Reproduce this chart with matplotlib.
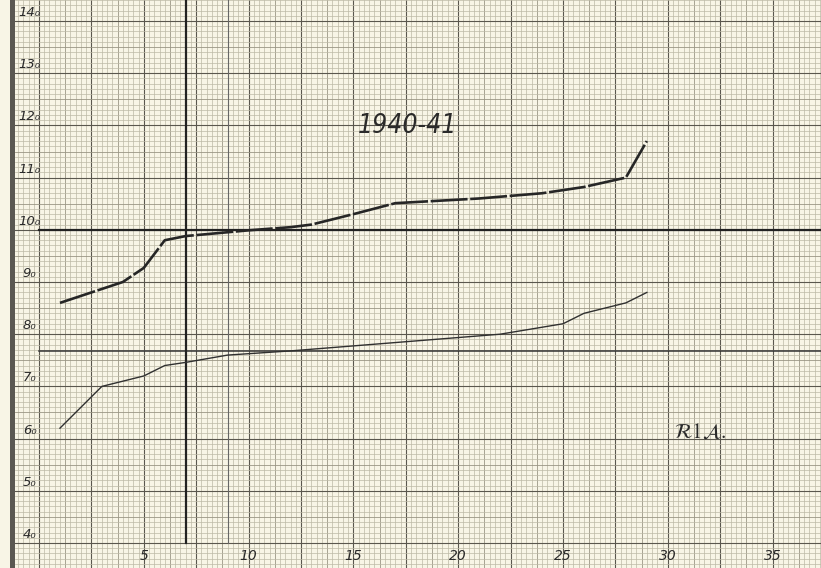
import numpy as np
import matplotlib
matplotlib.use("Agg")
import matplotlib.pyplot as plt

plt.rcParams['mathtext.fontset'] = 'stix'

# ---- data ----
days_upper = [1, 4, 5, 6, 7, 10, 12, 13, 15, 17, 21, 24, 26, 28, 29]
vals_upper = [86, 90, 92.7, 98, 98.8, 99.9, 100.5, 101, 103, 105.1, 106, 107, 108.2, 110, 117]
days_lower = [1, 3, 5, 6, 7, 9, 12, 17, 22, 25, 26, 28, 29]
vals_lower = [62, 70, 72, 74, 74.6, 76, 76.8, 78.4, 80, 82, 84, 86, 88]
y_ticks = [140, 130, 120, 110, 100, 90, 80, 70, 60, 50, 40]
y_ticklabels = ['14₀', '13₀', '12₀', '11₀', '10₀', '9₀', '8₀', '7₀', '6₀', '5₀', '4₀']
x_ticks = [5, 10, 15, 20, 25, 30, 35]
x_ticklabels = ['5', '10', '15', '20', '25', '30', '35']
title = '1940-41'
tag = r'$\mathcal{R}1\mathcal{A}.$'

W, H = 821, 568
fig = plt.figure(figsize=(W / 100, H / 100), dpi=100)
paper = '#f8f5e6'
fig.patch.set_facecolor(paper)

# pixel mapping
x0px, pxu = 39.0, 20.96
y140px, pyu = 21.0, 5.22
left_px = 15
ax = fig.add_axes([left_px / W, 0, (W - left_px) / W, 1])
xmin = (left_px - x0px) / pxu
xmax = (W - x0px) / pxu
ymax = 140 + y140px / pyu
ymin = 140 - (H - y140px) / pyu
ax.set_xlim(xmin, xmax)
ax.set_ylim(ymin, ymax)
ax.set_facecolor(paper)
ax.axis('off')

# binding shadow strip
fig.patches.append(plt.Rectangle((10 / W, 0), 5 / W, 1, transform=fig.transFigure,
                                 facecolor='#5a5852', edgecolor='none', zorder=0))

# graph paper grid
minor_c, mid_c, major_c = '#bdb9a6', '#9a9684', '#5a574e'
for xv in np.arange(np.floor(xmin / 0.25) * 0.25, xmax + 0.01, 0.25):
    k = round(xv / 0.25)
    if k % 10 == 0:
        ax.axvline(xv, color=major_c, lw=0.8, zorder=1)
    elif k % 5 == 0:
        ax.axvline(xv, color=mid_c, lw=0.6, zorder=1)
    else:
        ax.axvline(xv, color=minor_c, lw=0.5, zorder=1)
for yv in np.arange(np.floor(ymin), ymax + 0.01, 1.0):
    k = int(round(yv))
    if k % 10 == 0:
        ax.axhline(yv, color=major_c, lw=0.8, zorder=1)
    elif k % 5 == 0:
        ax.axhline(yv, color=mid_c, lw=0.6, zorder=1)
    else:
        ax.axhline(yv, color=minor_c, lw=0.5, zorder=1)

# heavy reference lines
ax.plot([0, xmax], [100, 100], color='#222222', lw=1.6, zorder=3)
ax.plot([0, xmax], [76.8, 76.8], color='#333333', lw=1.1, zorder=3)
ax.plot([7, 7], [40, ymax], color='#222222', lw=1.6, zorder=3)
ax.plot([9, 9], [40, ymax], color='#666666', lw=0.8, zorder=2)

# data lines
ax.plot(days_upper, vals_upper, color='#262626', lw=1.9, zorder=4,
        solid_capstyle='round', dashes=(14, 1.0))
ax.plot(days_lower, vals_lower, color='#303030', lw=1.0, zorder=4)

# tick labels
for v, lab in zip(y_ticks, y_ticklabels):
    ax.text(-0.45, v + 0.4, lab, ha='center', va='bottom', fontsize=9.5,
            style='italic', color='#2a2a2a', zorder=5)
for v, lab in zip(x_ticks, x_ticklabels):
    ax.text(v, 37.6, lab, ha='center', va='center', fontsize=10,
            style='italic', color='#2a2a2a', zorder=5)

ax.text(17.6, 119.9, title, ha='center', va='center', fontsize=19,
        style='italic', fontstretch='condensed',
        family=['DejaVu Sans'], color='#2a2a2a', zorder=5)
ax.text(31.55, 61.3, tag, ha='center', va='center', fontsize=15,
        color='#2a2a2a', zorder=5)

fig.savefig('out.png', dpi=100, facecolor=paper)
